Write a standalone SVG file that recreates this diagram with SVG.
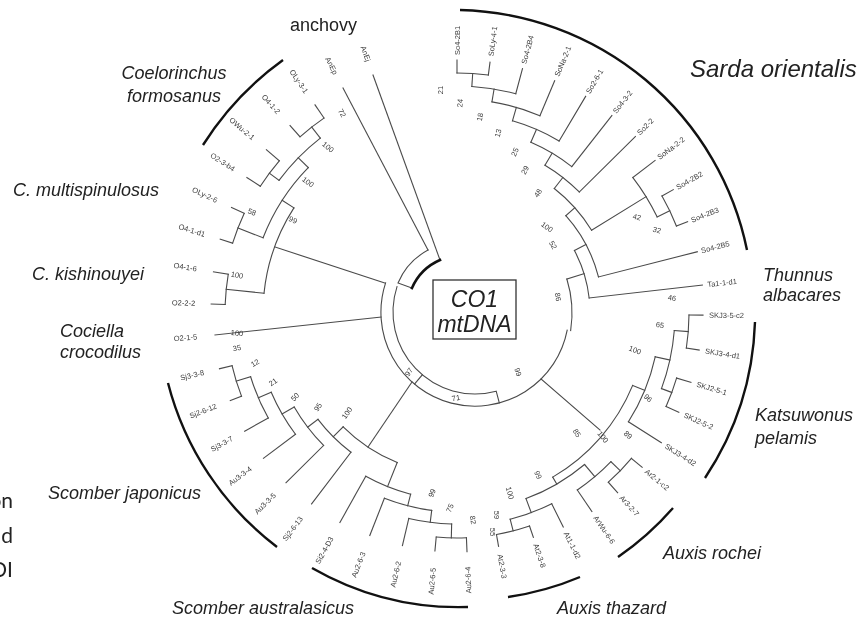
<svg xmlns="http://www.w3.org/2000/svg" width="864" height="621" viewBox="0 0 864 621">
<style>
#connectors line,#connectors circle,#connectors path{fill:none;stroke:#4a4a4a;stroke-width:1.1;stroke-linecap:square}
.lf{font-family:"Liberation Sans",Arial,sans-serif;font-size:7.5px;fill:#3a3a3a}
.bs{font-family:"Liberation Sans",Arial,sans-serif;font-size:7.5px;fill:#3a3a3a;text-anchor:middle}
.sp{font-family:"Liberation Sans",Arial,sans-serif;font-size:18px;font-style:italic;fill:#222}
.br{fill:none;stroke:#111;stroke-width:2.4}
.frag{font-family:Lato,"Open Sans",sans-serif;font-size:21px;fill:#222;text-anchor:end}
.gs{opacity:0.99}
</style>
<rect width="864" height="621" fill="#fff"/>

<g id="connectors">
 <g transform="translate(457 313)">
  <line x1="240" x2="253" transform="rotate(-90)"/>
  <line x1="240" x2="253" transform="rotate(-82.5)"/>
  <line x1="227" x2="253" transform="rotate(-75)"/>
  <line x1="214" x2="252" transform="rotate(-67.2)"/>
  <line x1="200" x2="252" transform="rotate(-59.3)"/>
  <line x1="186" x2="251" transform="rotate(-51.9)"/>
  <line x1="172" x2="251" transform="rotate(-44.7)"/>
  <line x1="222" x2="250" transform="rotate(-37.6)"/>
  <line x1="236" x2="249" transform="rotate(-29.7)"/>
  <line x1="236" x2="248" transform="rotate(-21.6)"/>
  <line x1="146" x2="248" transform="rotate(-14.3)"/>
  <line x1="133" x2="247" transform="rotate(-6.5)"/>
  <line x1="232" x2="246" transform="rotate(0.5)"/>
  <line x1="232" x2="245" transform="rotate(8.7)"/>
  <line x1="229" x2="244" transform="rotate(16.5)"/>
  <line x1="229" x2="243" transform="rotate(24.1)"/>
  <line x1="203" x2="242" transform="rotate(32.4)"/>
  <line x1="227" x2="241" transform="rotate(39.8)"/>
  <line x1="227" x2="241" transform="rotate(48.2)"/>
  <line x1="214" x2="240" transform="rotate(55.8)"/>
  <line x1="213" x2="239" transform="rotate(63.6)"/>
  <line x1="225" x2="237" transform="rotate(71.2)"/>
  <line x1="225" x2="237" transform="rotate(79.9)"/>
  <line x1="225" x2="239" transform="rotate(87.6)"/>
  <line x1="225" x2="239" transform="rotate(95.3)"/>
  <line x1="211" x2="239" transform="rotate(103.2)"/>
  <line x1="199" x2="239" transform="rotate(111.4)"/>
  <line x1="187" x2="240" transform="rotate(119.2)"/>
  <line x1="175" x2="240" transform="rotate(127.3)"/>
  <line x1="188" x2="241" transform="rotate(135.2)"/>
  <line x1="202" x2="242" transform="rotate(143.1)"/>
  <line x1="216" x2="243" transform="rotate(150.9)"/>
  <line x1="231" x2="243" transform="rotate(158.9)"/>
  <line x1="231" x2="244" transform="rotate(166.8)"/>
  <line x1="232" x2="246" transform="rotate(-177.9)"/>
  <line x1="232" x2="247" transform="rotate(-170.4)"/>
  <line x1="235" x2="248" transform="rotate(-162.7)"/>
  <line x1="235" x2="249" transform="rotate(-154.9)"/>
  <line x1="234" x2="250" transform="rotate(-147.2)"/>
  <line x1="234" x2="251" transform="rotate(-139.4)"/>
  <line x1="236" x2="251" transform="rotate(-131.7)"/>
  <line x1="236" x2="252" transform="rotate(-124.3)"/>
  <line x1="227" x2="240" transform="rotate(-86.25)"/>
  <line x1="214" x2="227" transform="rotate(-80.6)"/>
  <line x1="200" x2="214" transform="rotate(-73.9)"/>
  <line x1="186" x2="200" transform="rotate(-66.6)"/>
  <line x1="172" x2="186" transform="rotate(-59.25)"/>
  <line x1="158" x2="172" transform="rotate(-52)"/>
  <line x1="222" x2="236" transform="rotate(-25.65)"/>
  <line x1="158" x2="222" transform="rotate(-31.6)"/>
  <line x1="146" x2="158" transform="rotate(-41.8)"/>
  <line x1="133" x2="146" transform="rotate(-28)"/>
  <line x1="115" x2="133" transform="rotate(-17.2)"/>
  <line x1="218" x2="232" transform="rotate(4.6)"/>
  <line x1="218" x2="229" transform="rotate(20.3)"/>
  <line x1="203" x2="218" transform="rotate(12.45)"/>
  <line x1="190" x2="203" transform="rotate(22.4)"/>
  <line x1="214" x2="227" transform="rotate(44)"/>
  <line x1="198" x2="214" transform="rotate(49.9)"/>
  <line x1="213" x2="225" transform="rotate(75.55)"/>
  <line x1="198" x2="213" transform="rotate(69.6)"/>
  <line x1="190" x2="198" transform="rotate(59.75)"/>
  <line x1="216" x2="231" transform="rotate(162.85)"/>
  <line x1="202" x2="216" transform="rotate(156.9)"/>
  <line x1="188" x2="202" transform="rotate(150)"/>
  <line x1="175" x2="188" transform="rotate(142.6)"/>
  <line x1="161" x2="175" transform="rotate(135)"/>
  <line x1="211" x2="225" transform="rotate(91.45)"/>
  <line x1="199" x2="211" transform="rotate(97.3)"/>
  <line x1="187" x2="199" transform="rotate(104.35)"/>
  <line x1="161" x2="187" transform="rotate(111.8)"/>
  <line x1="222" x2="236" transform="rotate(-128)"/>
  <line x1="222" x2="234" transform="rotate(-143.3)"/>
  <line x1="208" x2="222" transform="rotate(-135.65)"/>
  <line x1="208" x2="235" transform="rotate(-158.8)"/>
  <line x1="194" x2="208" transform="rotate(-147.2)"/>
  <line x1="194" x2="232" transform="rotate(-174.15)"/>
  <circle r="240" pathLength="360" stroke-dasharray="7.5 400" transform="rotate(-90)"/>
  <circle r="227" pathLength="360" stroke-dasharray="11.25 400" transform="rotate(-86.25)"/>
  <circle r="214" pathLength="360" stroke-dasharray="13.4 400" transform="rotate(-80.6)"/>
  <circle r="200" pathLength="360" stroke-dasharray="14.6 400" transform="rotate(-73.9)"/>
  <circle r="186" pathLength="360" stroke-dasharray="14.7 400" transform="rotate(-66.6)"/>
  <circle r="172" pathLength="360" stroke-dasharray="14.55 400" transform="rotate(-59.25)"/>
  <circle r="236" pathLength="360" stroke-dasharray="8.1 400" transform="rotate(-29.7)"/>
  <circle r="222" pathLength="360" stroke-dasharray="11.95 400" transform="rotate(-37.6)"/>
  <circle r="158" pathLength="360" stroke-dasharray="20.4 400" transform="rotate(-52)"/>
  <circle r="146" pathLength="360" stroke-dasharray="27.5 400" transform="rotate(-41.8)"/>
  <circle r="133" pathLength="360" stroke-dasharray="21.5 400" transform="rotate(-28)"/>
  <circle r="115" pathLength="360" stroke-dasharray="26 400" transform="rotate(-17.2)"/>
  <circle r="232" pathLength="360" stroke-dasharray="8.2 400" transform="rotate(0.5)"/>
  <circle r="229" pathLength="360" stroke-dasharray="7.6 400" transform="rotate(16.5)"/>
  <circle r="218" pathLength="360" stroke-dasharray="15.7 400" transform="rotate(4.6)"/>
  <circle r="203" pathLength="360" stroke-dasharray="19.95 400" transform="rotate(12.45)"/>
  <circle r="227" pathLength="360" stroke-dasharray="8.4 400" transform="rotate(39.8)"/>
  <circle r="214" pathLength="360" stroke-dasharray="11.8 400" transform="rotate(44)"/>
  <circle r="225" pathLength="360" stroke-dasharray="8.7 400" transform="rotate(71.2)"/>
  <circle r="213" pathLength="360" stroke-dasharray="11.95 400" transform="rotate(63.6)"/>
  <circle r="198" pathLength="360" stroke-dasharray="19.7 400" transform="rotate(49.9)"/>
  <circle r="190" pathLength="360" stroke-dasharray="37.35 400" transform="rotate(22.4)"/>
  <circle r="231" pathLength="360" stroke-dasharray="7.9 400" transform="rotate(158.9)"/>
  <circle r="216" pathLength="360" stroke-dasharray="11.95 400" transform="rotate(150.9)"/>
  <circle r="202" pathLength="360" stroke-dasharray="13.8 400" transform="rotate(143.1)"/>
  <circle r="188" pathLength="360" stroke-dasharray="14.8 400" transform="rotate(135.2)"/>
  <circle r="175" pathLength="360" stroke-dasharray="15.3 400" transform="rotate(127.3)"/>
  <circle r="225" pathLength="360" stroke-dasharray="7.7 400" transform="rotate(87.6)"/>
  <circle r="211" pathLength="360" stroke-dasharray="11.75 400" transform="rotate(91.45)"/>
  <circle r="199" pathLength="360" stroke-dasharray="14.1 400" transform="rotate(97.3)"/>
  <circle r="187" pathLength="360" stroke-dasharray="14.85 400" transform="rotate(104.35)"/>
  <circle r="161" pathLength="360" stroke-dasharray="23.2 400" transform="rotate(111.8)"/>
  <circle r="236" pathLength="360" stroke-dasharray="7.4 400" transform="rotate(-131.7)"/>
  <circle r="234" pathLength="360" stroke-dasharray="7.8 400" transform="rotate(-147.2)"/>
  <circle r="222" pathLength="360" stroke-dasharray="15.3 400" transform="rotate(-143.3)"/>
  <circle r="235" pathLength="360" stroke-dasharray="7.8 400" transform="rotate(-162.7)"/>
  <circle r="208" pathLength="360" stroke-dasharray="23.15 400" transform="rotate(-158.8)"/>
  <circle r="232" pathLength="360" stroke-dasharray="7.5 400" transform="rotate(-177.9)"/>
  <circle r="194" pathLength="360" stroke-dasharray="26.95 400" transform="rotate(-174.15)"/>
 </g>
 <line x1="215" y1="335" x2="381" y2="317"/>
 <line x1="343" y1="88" x2="428" y2="250"/>
 <line x1="373" y1="75" x2="440" y2="260"/>
 <line x1="275" y1="247" x2="385" y2="283"/>
 <line x1="368" y1="447" x2="412" y2="382"/>
 <line x1="541" y1="379" x2="600" y2="430"/>
 <path d="M428,250 A67,67 0 0,0 398,283 L412,288"/>
 <path d="M412,288 A54,54 0 0,1 440,260" style="stroke:#111;stroke-width:2.6"/>
 <path d="M385.6,282.9 A94,94 0 1,0 567.2,330.1"/>
 <path d="M397,286.7 A82,82 0 0,0 496.2,391.2 L499.3,402.8"/>
 <line x1="422.3" y1="374.8" x2="414.6" y2="384"/>
</g>

<g id="brackets">
 <path class="br" d="M283,60 A305,305 0 0,0 203,145"/>
 <path class="br" d="M460,10 A300,300 0 0,1 747,250"/>
 <path class="br" d="M755,322 A300,300 0 0,1 705,478"/>
 <path class="br" d="M673,508 A292,292 0 0,1 618,557"/>
 <path class="br" d="M580,577 A292,292 0 0,1 508,597"/>
 <path class="br" d="M468,607 A295,295 0 0,1 312,568"/>
 <path class="br" d="M277,547 A300,300 0 0,1 168,383"/>
</g>

<g id="leaf-labels" class="gs" transform="translate(457 313)">
 <g id="n-So4-2B1"><text class="lf" transform="rotate(-90) translate(258 0)" dy="2.6">So4-2B1</text></g>
 <g id="n-SoLy-4-1"><text class="lf" transform="rotate(-82.5) translate(259 0)" dy="2.6">SoLy-4-1</text></g>
 <g id="n-So4-2B4"><text class="lf" transform="rotate(-75) translate(258 0)" dy="2.6">So4-2B4</text></g>
 <g id="n-SoNa-2-1"><text class="lf" transform="rotate(-67.2) translate(257 0)" dy="2.6">SoNa-2-1</text></g>
 <g id="n-So2-6-1"><text class="lf" transform="rotate(-59.3) translate(256 0)" dy="2.6">So2-6-1</text></g>
 <g id="n-So4-3-2"><text class="lf" transform="rotate(-51.9) translate(255 0)" dy="2.6">So4-3-2</text></g>
 <g id="n-So2-2"><text class="lf" transform="rotate(-44.7) translate(255 0)" dy="2.6">So2-2</text></g>
 <g id="n-SoNa-2-2"><text class="lf" transform="rotate(-37.6) translate(254 0)" dy="2.6">SoNa-2-2</text></g>
 <g id="n-So4-2B2"><text class="lf" transform="rotate(-29.7) translate(253 0)" dy="2.6">So4-2B2</text></g>
 <g id="n-So4-2B3"><text class="lf" transform="rotate(-21.6) translate(252 0)" dy="2.6">So4-2B3</text></g>
 <g id="n-So4-2B5"><text class="lf" transform="rotate(-14.3) translate(252 0)" dy="2.6">So4-2B5</text></g>
 <g id="n-Ta1-1-d1"><text class="lf" transform="rotate(-6.5) translate(252 0)" dy="2.6">Ta1-1-d1</text></g>
 <g id="n-SKJ3-5-c2"><text class="lf" transform="rotate(0.5) translate(252 0)" dy="2.6">SKJ3-5-c2</text></g>
 <g id="n-SKJ3-4-d1"><text class="lf" transform="rotate(8.7) translate(251 0)" dy="2.6">SKJ3-4-d1</text></g>
 <g id="n-SKJ2-5-1"><text class="lf" transform="rotate(16.5) translate(250 0)" dy="2.6">SKJ2-5-1</text></g>
 <g id="n-SKJ2-5-2"><text class="lf" transform="rotate(24.1) translate(249 0)" dy="2.6">SKJ2-5-2</text></g>
 <g id="n-SKJ3-4-d2"><text class="lf" transform="rotate(32.4) translate(247 0)" dy="2.6">SKJ3-4-d2</text></g>
 <g id="n-Ar2-1-c2"><text class="lf" transform="rotate(39.8) translate(246 0)" dy="2.6">Ar2-1-c2</text></g>
 <g id="n-Ar3-2-7"><text class="lf" transform="rotate(48.2) translate(246 0)" dy="2.6">Ar3-2-7</text></g>
 <g id="n-ArWu-6-6"><text class="lf" transform="rotate(55.8) translate(246 0)" dy="2.6">ArWu-6-6</text></g>
 <g id="n-At1-1-d2"><text class="lf" transform="rotate(63.6) translate(245 0)" dy="2.6">At1-1-d2</text></g>
 <g id="n-At2-3-8"><text class="lf" transform="rotate(71.2) translate(244 0)" dy="2.6">At2-3-8</text></g>
 <g id="n-At2-3-3"><text class="lf" transform="rotate(79.9) translate(245 0)" dy="2.6">At2-3-3</text></g>
 <g id="n-Au2-6-4"><text class="lf" transform="rotate(87.6) translate(254 0) rotate(180)" text-anchor="end" dy="2.6">Au2-6-4</text></g>
 <g id="n-Au2-6-5"><text class="lf" transform="rotate(95.3) translate(256 0) rotate(180)" text-anchor="end" dy="2.6">Au2-6-5</text></g>
 <g id="n-Au2-6-2"><text class="lf" transform="rotate(103.2) translate(255 0) rotate(180)" text-anchor="end" dy="2.6">Au2-6-2</text></g>
 <g id="n-Au2-6-3"><text class="lf" transform="rotate(111.4) translate(257 0) rotate(180)" text-anchor="end" dy="2.6">Au2-6-3</text></g>
 <g id="n-Si2-4-D3"><text class="lf" transform="rotate(119.2) translate(257 0) rotate(180)" text-anchor="end" dy="2.6">Si2-4-D3</text></g>
 <g id="n-Sj2-6-13"><text class="lf" transform="rotate(127.3) translate(257 0) rotate(180)" text-anchor="end" dy="2.6">Sj2-6-13</text></g>
 <g id="n-Au3-3-5"><text class="lf" transform="rotate(135.2) translate(257 0) rotate(180)" text-anchor="end" dy="2.6">Au3-3-5</text></g>
 <g id="n-Au3-3-4"><text class="lf" transform="rotate(143.1) translate(258 0) rotate(180)" text-anchor="end" dy="2.6">Au3-3-4</text></g>
 <g id="n-Sj3-3-7"><text class="lf" transform="rotate(150.9) translate(257 0) rotate(180)" text-anchor="end" dy="2.6">Sj3-3-7</text></g>
 <g id="n-Sj2-6-12"><text class="lf" transform="rotate(158.9) translate(258 0) rotate(180)" text-anchor="end" dy="2.6">Sj2-6-12</text></g>
 <g id="n-Sj3-3-8"><text class="lf" transform="rotate(166.8) translate(260 0) rotate(180)" text-anchor="end" dy="2.6">Sj3-3-8</text></g>
 <g id="n-O2-1-5"><text class="lf" transform="rotate(174.8) translate(261 0) rotate(180)" text-anchor="end" dy="2.6">O2-1-5</text></g>
 <g id="n-O2-2-2"><text class="lf" transform="rotate(-177.9) translate(262 0) rotate(180)" text-anchor="end" dy="2.6">O2-2-2</text></g>
 <g id="n-O4-1-6"><text class="lf" transform="rotate(-170.4) translate(264 0) rotate(180)" text-anchor="end" dy="2.6">O4-1-6</text></g>
 <g id="n-O4-1-d1"><text class="lf" transform="rotate(-162.7) translate(264 0) rotate(180)" text-anchor="end" dy="2.6">O4-1-d1</text></g>
 <g id="n-OLy-2-6"><text class="lf" transform="rotate(-154.9) translate(265 0) rotate(180)" text-anchor="end" dy="2.6">OLy-2-6</text></g>
 <g id="n-O2-3-b4"><text class="lf" transform="rotate(-147.2) translate(265 0) rotate(180)" text-anchor="end" dy="2.6">O2-3-b4</text></g>
 <g id="n-OWu-2-1"><text class="lf" transform="rotate(-139.4) translate(268 0) rotate(180)" text-anchor="end" dy="2.6">OWu-2-1</text></g>
 <g id="n-O4-1-2"><text class="lf" transform="rotate(-131.7) translate(268 0) rotate(180)" text-anchor="end" dy="2.6">O4-1-2</text></g>
 <g id="n-OLy-3-1"><text class="lf" transform="rotate(-124.3) translate(267 0) rotate(180)" text-anchor="end" dy="2.6">OLy-3-1</text></g>
 <g id="n-AnEp"><text class="lf" transform="rotate(-116.9) translate(268 0) rotate(180)" text-anchor="end" dy="2.6">AnEp</text></g>
 <g id="n-AnEj"><text class="lf" transform="rotate(-109.4) translate(267 0) rotate(180)" text-anchor="end" dy="2.6">AnEj</text></g>
</g>

<g id="bootstrap" class="gs">
 <text class="bs" x="342" y="113" dy="2.6" transform="rotate(60 342 113)">72</text>
 <text class="bs" x="328" y="147" dy="2.6" transform="rotate(40 328 147)">100</text>
 <text class="bs" x="308" y="182" dy="2.6" transform="rotate(35 308 182)">100</text>
 <text class="bs" x="293" y="220" dy="2.6" transform="rotate(25 293 220)">99</text>
 <text class="bs" x="252" y="212" dy="2.6" transform="rotate(20 252 212)">58</text>
 <text class="bs" x="237" y="275" dy="2.6" transform="rotate(10 237 275)">100</text>
 <text class="bs" x="237" y="333" dy="2.6" transform="rotate(5 237 333)">100</text>
 <text class="bs" x="237" y="348" dy="2.6" transform="rotate(-10 237 348)">35</text>
 <text class="bs" x="255" y="363" dy="2.6" transform="rotate(-30 255 363)">12</text>
 <text class="bs" x="273" y="382" dy="2.6" transform="rotate(-35 273 382)">21</text>
 <text class="bs" x="295" y="397" dy="2.6" transform="rotate(-45 295 397)">50</text>
 <text class="bs" x="318" y="407" dy="2.6" transform="rotate(-55 318 407)">95</text>
 <text class="bs" x="347" y="413" dy="2.6" transform="rotate(-55 347 413)">100</text>
 <text class="bs" x="432" y="493" dy="2.6" transform="rotate(-70 432 493)">99</text>
 <text class="bs" x="450" y="508" dy="2.6" transform="rotate(-65 450 508)">75</text>
 <text class="bs" x="473" y="520" dy="2.6" transform="rotate(80 473 520)">82</text>
 <text class="bs" x="493" y="532" dy="2.6" transform="rotate(90 493 532)">55</text>
 <text class="bs" x="497" y="515" dy="2.6" transform="rotate(90 497 515)">59</text>
 <text class="bs" x="510" y="493" dy="2.6" transform="rotate(75 510 493)">100</text>
 <text class="bs" x="538" y="475" dy="2.6" transform="rotate(65 538 475)">99</text>
 <text class="bs" x="577" y="433" dy="2.6" transform="rotate(55 577 433)">85</text>
 <text class="bs" x="603" y="437" dy="2.6" transform="rotate(50 603 437)">100</text>
 <text class="bs" x="628" y="435" dy="2.6" transform="rotate(40 628 435)">89</text>
 <text class="bs" x="648" y="398" dy="2.6" transform="rotate(45 648 398)">96</text>
 <text class="bs" x="635" y="350" dy="2.6" transform="rotate(20 635 350)">100</text>
 <text class="bs" x="660" y="325" dy="2.6" transform="rotate(10 660 325)">65</text>
 <text class="bs" x="672" y="298" dy="2.6" transform="rotate(10 672 298)">46</text>
 <text class="bs" x="637" y="217" dy="2.6" transform="rotate(15 637 217)">42</text>
 <text class="bs" x="657" y="230" dy="2.6" transform="rotate(15 657 230)">32</text>
 <text class="bs" x="558" y="297" dy="2.6" transform="rotate(80 558 297)">86</text>
 <text class="bs" x="553" y="245" dy="2.6" transform="rotate(60 553 245)">52</text>
 <text class="bs" x="547" y="227" dy="2.6" transform="rotate(35 547 227)">100</text>
 <text class="bs" x="538" y="193" dy="2.6" transform="rotate(-55 538 193)">48</text>
 <text class="bs" x="525" y="170" dy="2.6" transform="rotate(-60 525 170)">29</text>
 <text class="bs" x="515" y="152" dy="2.6" transform="rotate(-65 515 152)">25</text>
 <text class="bs" x="498" y="133" dy="2.6" transform="rotate(-75 498 133)">13</text>
 <text class="bs" x="480" y="117" dy="2.6" transform="rotate(-80 480 117)">18</text>
 <text class="bs" x="460" y="103" dy="2.6" transform="rotate(-85 460 103)">24</text>
 <text class="bs" x="440" y="90" dy="2.6" transform="rotate(-90 440 90)">21</text>
 <text class="bs" x="409" y="372" dy="2.6" transform="rotate(-55 409 372)">97</text>
 <text class="bs" x="456" y="398" dy="2.6" transform="rotate(-10 456 398)">71</text>
 <text class="bs" x="518" y="372" dy="2.6" transform="rotate(70 518 372)">99</text>
</g>

<g id="center-box">
 <rect x="433" y="280" width="83" height="59" fill="none" stroke="#333" stroke-width="1.3"/>
 <text class="sp" x="474.5" y="307" text-anchor="middle" style="font-size:23px">CO1</text>
 <text class="sp" x="474.5" y="332" text-anchor="middle" style="font-size:23px">mtDNA</text>
</g>

<g id="species-labels">
 <g id="g-anchovy"><text class="sp" x="290" y="31" style="font-style:normal">anchovy</text></g>
 <g id="g-coelorinchus"><text class="sp" x="174" y="79" text-anchor="middle">Coelorinchus</text><text class="sp" x="174" y="102" text-anchor="middle">formosanus</text></g>
 <g id="g-sarda"><text class="sp" x="690" y="77" style="font-size:24px">Sarda orientalis</text></g>
 <g id="g-multispinulosus"><text class="sp" x="13" y="196">C. multispinulosus</text></g>
 <g id="g-kishinouyei"><text class="sp" x="32" y="280">C. kishinouyei</text></g>
 <g id="g-cociella"><text class="sp" x="60" y="337">Cociella</text><text class="sp" x="60" y="358">crocodilus</text></g>
 <g id="g-thunnus"><text class="sp" x="763" y="281">Thunnus</text><text class="sp" x="763" y="301">albacares</text></g>
 <g id="g-katsuwonus"><text class="sp" x="755" y="421">Katsuwonus</text><text class="sp" x="755" y="444">pelamis</text></g>
 <g id="g-rochei"><text class="sp" x="663" y="559">Auxis rochei</text></g>
 <g id="g-thazard"><text class="sp" x="557" y="614">Auxis thazard</text></g>
 <g id="g-australasicus"><text class="sp" x="172" y="614">Scomber australasicus</text></g>
 <g id="g-japonicus"><text class="sp" x="48" y="499">Scomber japonicus</text></g>
</g>

<g id="cut-text">
 <text class="frag" x="13" y="508">on</text>
 <text class="frag" x="13" y="543">d</text>
 <text class="frag" x="13" y="577">OI</text>
</g>
</svg>
